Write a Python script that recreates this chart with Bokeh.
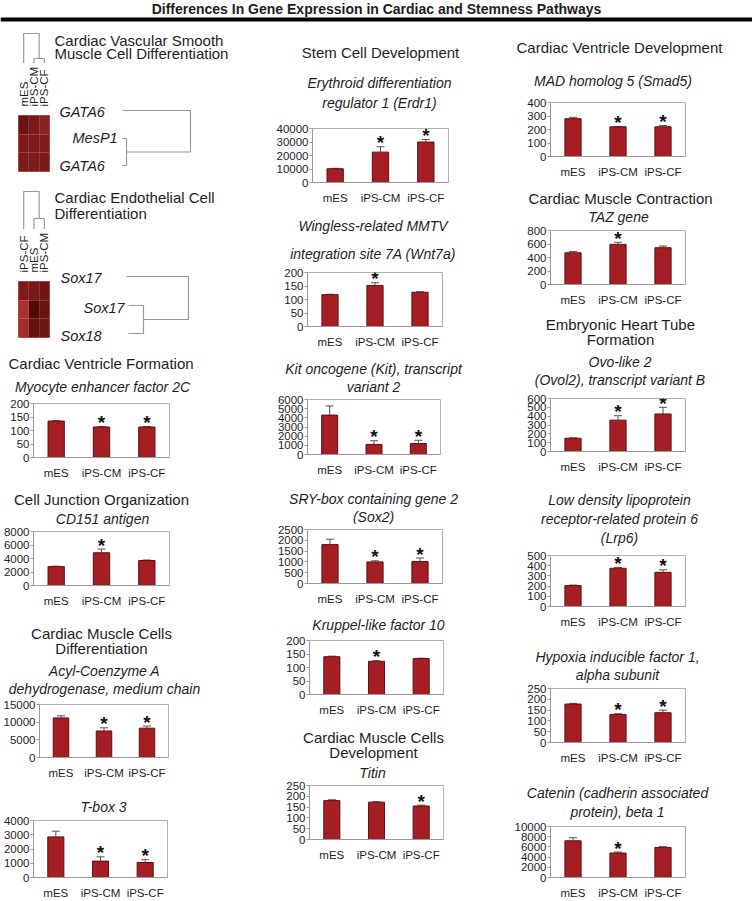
import math
from bokeh.plotting import figure
from bokeh.layouts import column, row
from bokeh.models import (Range1d, FactorRange, FixedTicker, Whisker, TeeHead,
                          ColumnDataSource, Span, LinearColorMapper)
from bokeh.transform import transform
from bokeh.core.properties import value
from bokeh.embed import file_html
from bokeh.resources import INLINE

# ------------------------------------------------------------------ data
TITLE = "Differences In Gene Expression in Cardiac and Stemness Pathways"
CATEGORIES = ["mES", "iPS-CM", "iPS-CF"]

MEF2C = [135, 113, 113]
MEF2C_ERR = [1.5, 2, 2]
MEF2C_SIG = [False, True, True]
MEF2C_TICKS = [0, 50, 100, 150, 200]

CD151 = [2800, 4850, 3700]
CD151_ERR = [60, 550, 80]
CD151_SIG = [False, True, False]
CD151_TICKS = [0, 2000, 4000, 6000, 8000]

ACADM = [11200, 7500, 8300]
ACADM_ERR = [600, 900, 600]
ACADM_SIG = [False, True, True]
ACADM_TICKS = [0, 5000, 10000, 15000]

TBX3 = [2850, 1150, 1050]
TBX3_ERR = [400, 300, 200]
TBX3_SIG = [False, True, True]
TBX3_TICKS = [0, 1000, 2000, 3000, 4000]

ERDR1 = [10200, 22500, 30000]
ERDR1_ERR = [300, 4000, 1800]
ERDR1_SIG = [False, True, True]
ERDR1_TICKS = [0, 10000, 20000, 30000, 40000]

WNT7A = [118, 152, 127]
WNT7A_ERR = [1.5, 10, 1.5]
WNT7A_SIG = [False, True, False]
WNT7A_TICKS = [0, 50, 100, 150, 200]

KIT = [4300, 1100, 1200]
KIT_ERR = [1000, 400, 350]
KIT_SIG = [False, True, True]
KIT_TICKS = [0, 1000, 2000, 3000, 4000, 5000, 6000]

SOX2 = [1800, 1000, 1020]
SOX2_ERR = [250, 50, 160]
SOX2_SIG = [False, True, True]
SOX2_TICKS = [0, 500, 1000, 1500, 2000, 2500]

KLF10 = [140, 123, 133]
KLF10_ERR = [2, 2, 1.5]
KLF10_SIG = [False, True, False]
KLF10_TICKS = [0, 50, 100, 150, 200]

TTN = [180, 173, 155]
TTN_ERR = [4, 2, 4]
TTN_SIG = [False, False, True]
TTN_TICKS = [0, 50, 100, 150, 200, 250]

SMAD5 = [280, 220, 220]
SMAD5_ERR = [10, 3, 10]
SMAD5_SIG = [False, True, True]
SMAD5_TICKS = [0, 100, 200, 300, 400]

TAZ = [470, 595, 545]
TAZ_ERR = [20, 30, 25]
TAZ_SIG = [False, True, False]
TAZ_TICKS = [0, 200, 400, 600, 800]

OVOL2 = [150, 355, 425]
OVOL2_ERR = [5, 50, 75]
OVOL2_SIG = [False, True, True]
OVOL2_TICKS = [0, 100, 200, 300, 400, 500, 600]

LRP6 = [205, 375, 335]
LRP6_ERR = [5, 8, 25]
LRP6_SIG = [False, True, True]
LRP6_TICKS = [0, 100, 200, 300, 400, 500]

HIF1A = [178, 130, 138]
HIF1A_ERR = [3, 3, 12]
HIF1A_SIG = [False, True, True]
HIF1A_TICKS = [0, 50, 100, 150, 200, 250]

CTNNB1 = [7200, 4800, 5900]
CTNNB1_ERR = [600, 200, 150]
CTNNB1_SIG = [False, True, False]
CTNNB1_TICKS = [0, 2000, 4000, 6000, 8000, 10000]

HM1_COLS = ["mES", "iPS-CM", "iPS-CF"]
HM1_ROWS = ["GATA6", "MesP1", "GATA6"]
HM1_VALUES = [[0.70, 0.56, 0.40],
              [0.55, 0.55, 0.52],
              [0.55, 0.53, 0.55]]

HM2_COLS = ["iPS-CF", "mES", "iPS-CM"]
HM2_ROWS = ["Sox17", "Sox17", "Sox18"]
HM2_VALUES = [[0.52, 0.58, 0.66],
              [0.11, 0.91, 0.72],
              [0.20, 0.74, 0.68]]

# ------------------------------------------------------------------ style / layout
W_REF, H_REF = 752, 901
W_OUT, H_OUT = 752, 901
FS = 1.0
FONT = "Liberation Sans"
TXT = "#1e1e1e"
BAR = "#A51E24"
BAR_EDGE = "#5E1014"
ERR = "#555555"
AXIS = "#9a9a9a"
OUTLINE = "#b0b0b0"
DENDRO = "#9a9a9a"


def X(x):
    return int(round(x * W_OUT / W_REF))


def Y(y):
    return int(round(y * H_OUT / H_REF))


def hexcol(a, b, t):
    ca = [int(a[i:i + 2], 16) for i in (1, 3, 5)]
    cb = [int(b[i:i + 2], 16) for i in (1, 3, 5)]
    return "#%02x%02x%02x" % tuple(int(round(ca[k] + (cb[k] - ca[k]) * t)) for k in range(3))


PALETTE = [hexcol("#b83434", "#4a0505", i / 255) for i in range(256)]


def no_align(p):
    try:
        p.frame_align = False
    except Exception:
        pass
    return p


def text_fig(x0, x1, y0, y1):
    p = figure(width=X(x1) - X(x0), height=Y(y1) - Y(y0),
               x_range=Range1d(x0, x1), y_range=Range1d(y1, y0),
               x_axis_type=None, y_axis_type=None, toolbar_location=None,
               output_backend="svg", min_border_left=0, min_border_right=0,
               min_border_top=0, min_border_bottom=0)
    p.outline_line_color = None
    return no_align(p)


def label(p, x, y, s, size=14, italic=False, align="center", bold=False):
    style = "italic" if italic else ("bold" if bold else "normal")
    p.text(x=[x], y=[y], text=[s], text_align=align, text_baseline="middle",
           text_font=value(FONT), text_font_size=value("%.1fpx" % (size * FS)),
           text_font_style=value(style), text_color=TXT)


def bar_fig(x0, x1, y0, y1, fl, fr, ft, fb, vals, errs, sig, ticks):
    p = figure(x_range=FactorRange(factors=CATEGORIES), y_range=Range1d(0, ticks[-1]),
               width=X(x1) - X(x0), height=Y(y1) - Y(y0),
               min_border_left=X(fl) - X(x0), min_border_right=X(x1) - X(fr),
               min_border_top=Y(ft) - Y(y0), min_border_bottom=Y(y1) - Y(fb),
               toolbar_location=None, output_backend="svg")
    no_align(p)
    ups = [v + e for v, e in zip(vals, errs)]
    src = ColumnDataSource(dict(cat=CATEGORIES, val=vals, up=ups))
    p.vbar(x="cat", top="val", width=0.36, source=src, fill_color=BAR,
           line_color=BAR_EDGE, line_width=1)
    p.add_layout(Whisker(base="cat", lower="val", upper="up", source=src,
                         line_color=ERR, line_width=1,
                         upper_head=TeeHead(size=8, line_color=ERR, line_width=1),
                         lower_head=None))
    sx = [c for c, s in zip(CATEGORIES, sig) if s]
    sy = [u for u, s in zip(ups, sig) if s]
    if sx:
        p.text(x=sx, y=sy, text=["*"] * len(sx), text_align="center",
               text_baseline="alphabetic", y_offset=-4, text_font=value(FONT),
               text_font_size=value("19px"), text_font_style=value("bold"),
               text_color="#111111")
    p.xgrid.visible = False
    p.ygrid.visible = False
    p.outline_line_color = OUTLINE
    p.yaxis.ticker = FixedTicker(ticks=ticks)
    p.yaxis.major_label_text_font = FONT
    p.yaxis.major_label_text_font_size = "11.5px"
    p.yaxis.major_label_text_color = TXT
    p.yaxis.major_tick_out = 3
    p.yaxis.major_tick_in = 0
    p.yaxis.minor_tick_line_color = None
    p.yaxis.axis_line_color = AXIS
    p.yaxis.major_tick_line_color = AXIS
    p.yaxis.major_label_standoff = 1
    p.xaxis.major_tick_line_color = None
    p.xaxis.minor_tick_line_color = None
    p.xaxis.axis_line_color = AXIS
    p.xaxis.major_label_standoff = 3
    p.xaxis.major_label_text_font = FONT
    p.xaxis.major_label_text_font_size = "11.5px"
    p.xaxis.major_label_text_color = TXT
    return p


def heatmap_fig(cols, vals, x0, x1, y0, y1, fl, fr, ft, fb):
    n = len(vals)
    p = figure(x_range=FactorRange(factors=cols), y_range=Range1d(n, 0),
               x_axis_location="above", y_axis_type=None,
               width=X(x1) - X(x0), height=Y(y1) - Y(y0),
               min_border_left=X(fl) - X(x0), min_border_right=X(x1) - X(fr),
               min_border_top=Y(ft) - Y(y0), min_border_bottom=Y(y1) - Y(fb),
               toolbar_location=None, output_backend="svg")
    no_align(p)
    xs, ys, vs = [], [], []
    for r, rowv in enumerate(vals):
        for c, v in enumerate(rowv):
            xs.append(cols[c]); ys.append(r + 0.5); vs.append(v)
    mapper = LinearColorMapper(palette=PALETTE, low=0, high=1)
    p.rect(x="col", y="row", width=1, height=1,
           source=ColumnDataSource(dict(col=xs, row=ys, v=vs)),
           fill_color=transform("v", mapper), line_color=None)
    p.grid.visible = False
    p.outline_line_color = "#c05050"
    ax = p.xaxis
    ax.major_label_orientation = math.pi / 2
    ax.axis_line_color = None
    ax.major_tick_line_color = None
    ax.minor_tick_line_color = None
    ax.major_label_standoff = 3
    ax.major_label_text_font = FONT
    ax.major_label_text_font_size = "11.5px"
    ax.major_label_text_color = TXT
    return p


def col_dendro(p, hm_left, hm_right, n, root_y, pair_y, leaf_y):
    cw = (hm_right - hm_left) / n
    c = [hm_left + cw * (i + 0.5) for i in range(n)]
    m = (c[1] + c[2]) / 2
    xs = [[c[0], c[0], m, m], [c[1], c[1], c[2], c[2]]]
    ys = [[leaf_y, root_y, root_y, pair_y], [leaf_y, pair_y, pair_y, leaf_y]]
    p.multi_line(xs=xs, ys=ys, line_color=DENDRO, line_width=1.2)


def row_dendro(p, leaf_ys, x_first, x_pair, pair_x, root_x):
    y0, y1, y2 = leaf_ys
    mid = (y1 + y2) / 2
    xs = [[x_first, root_x, root_x, pair_x],
          [x_pair, pair_x, pair_x, x_pair]]
    ys = [[y0, y0, mid, mid], [y1, y1, y2, y2]]
    p.multi_line(xs=xs, ys=ys, line_color=DENDRO, line_width=1.2)


# ------------------------------------------------------------------ title
title_fig = text_fig(0, 752, 0, 24)
label(title_fig, 376, 8.5, TITLE, size=14, bold=True)
title_fig.add_layout(Span(location=19, dimension="width", line_color="black", line_width=4))

# ------------------------------------------------------------------ left column
LX0, LX1 = 0, 250
left = []

t = text_fig(LX0, LX1, 24, 63)
label(t, 54, 40, "Cardiac Vascular Smooth", 15, align="left")
label(t, 54, 53, "Muscle Cell Differentiation", 15, align="left")
col_dendro(t, 18, 49, 3, 33, 58, 63)
left.append(t)

hm1 = heatmap_fig(HM1_COLS, HM1_VALUES, 0, 52, 63, 175, 18, 49, 106, 171)
tb = text_fig(52, LX1, 63, 175)
for s, x, y in zip(HM1_ROWS, [59, 72, 59], [111, 137, 165]):
    label(tb, x, y, s, 14.5, italic=True, align="left")
row_dendro(tb, [110, 138, 165], 122, 122, 126, 190)
left.append(row(hm1, tb))

t = text_fig(LX0, LX1, 175, 229)
label(t, 54, 197, "Cardiac Endothelial Cell", 15, align="left")
label(t, 54, 213, "Differentiation", 15, align="left")
col_dendro(t, 18, 49, 3, 191, 218, 229)
left.append(t)

hm2 = heatmap_fig(HM2_COLS, HM2_VALUES, 0, 52, 229, 345, 18, 49, 272, 337)
tb = text_fig(52, LX1, 229, 345)
for s, x, y in zip(HM2_ROWS, [60, 83, 60], [277, 307, 335]):
    label(tb, x, y, s, 14.5, italic=True, align="left")
row_dendro(tb, [276, 305, 333], 126, 128, 143, 188)
left.append(row(hm2, tb))

t = text_fig(LX0, LX1, 345, 398)
label(t, 8, 363, "Cardiac Ventricle Formation", 15, align="left")
label(t, 102, 386, "Myocyte enhancer factor 2C", 14, italic=True)
left.append(t)
left.append(bar_fig(LX0, LX1, 398, 481, 33, 169, 403, 463, MEF2C, MEF2C_ERR, MEF2C_SIG, MEF2C_TICKS))

t = text_fig(LX0, LX1, 481, 527)
label(t, 101, 499, "Cell Junction Organization", 15)
label(t, 102, 518, "CD151 antigen", 14, italic=True)
left.append(t)
left.append(bar_fig(LX0, LX1, 527, 609, 33, 169, 531, 591, CD151, CD151_ERR, CD151_SIG, CD151_TICKS))

t = text_fig(LX0, LX1, 609, 699)
label(t, 101, 633, "Cardiac Muscle Cells", 15)
label(t, 101, 648, "Differentiation", 15)
label(t, 104, 670, "Acyl-Coenzyme A", 14, italic=True)
label(t, 104, 688, "dehydrogenase, medium chain", 14, italic=True)
left.append(t)
left.append(bar_fig(LX0, LX1, 699, 781, 33, 168, 704, 763, ACADM, ACADM_ERR, ACADM_SIG, ACADM_TICKS))

t = text_fig(LX0, LX1, 781, 815)
label(t, 103, 806, "T-box 3", 14, italic=True)
left.append(t)
left.append(bar_fig(LX0, LX1, 815, 901, 33, 167, 820, 882, TBX3, TBX3_ERR, TBX3_SIG, TBX3_TICKS))

# ------------------------------------------------------------------ middle column
MX0, MX1 = 250, 500
mid = []
t = text_fig(MX0, MX1, 24, 123)
label(t, 380, 52, "Stem Cell Development", 15)
label(t, 379, 82, "Erythroid differentiation", 14, italic=True)
label(t, 379, 102, "regulator 1 (Erdr1)", 14, italic=True)
mid.append(t)
mid.append(bar_fig(MX0, MX1, 123, 206, 312, 448, 128, 188, ERDR1, ERDR1_ERR, ERDR1_SIG, ERDR1_TICKS))

t = text_fig(MX0, MX1, 206, 267)
label(t, 372.5, 225, "Wingless-related MMTV", 14, italic=True)
label(t, 372.5, 253, "integration site 7A (Wnt7a)", 14, italic=True)
mid.append(t)
mid.append(bar_fig(MX0, MX1, 267, 350, 307, 442, 272, 332, WNT7A, WNT7A_ERR, WNT7A_SIG, WNT7A_TICKS))

t = text_fig(MX0, MX1, 350, 394)
label(t, 373, 368, "Kit oncogene (Kit), transcript", 14, italic=True)
label(t, 373, 386, "variant 2", 14, italic=True)
mid.append(t)
mid.append(bar_fig(MX0, MX1, 394, 478, 307, 440, 399, 460, KIT, KIT_ERR, KIT_SIG, KIT_TICKS))

t = text_fig(MX0, MX1, 478, 524)
label(t, 373, 498, "SRY-box containing gene 2", 14, italic=True)
label(t, 373, 516, "(Sox2)", 14, italic=True)
mid.append(t)
mid.append(bar_fig(MX0, MX1, 524, 607, 307, 442, 529, 589, SOX2, SOX2_ERR, SOX2_SIG, SOX2_TICKS))

t = text_fig(MX0, MX1, 607, 635)
label(t, 378, 624, "Kruppel-like factor 10", 14, italic=True)
mid.append(t)
mid.append(bar_fig(MX0, MX1, 635, 718, 309, 443, 640, 700, KLF10, KLF10_ERR, KLF10_SIG, KLF10_TICKS))

t = text_fig(MX0, MX1, 718, 781)
label(t, 373, 737, "Cardiac Muscle Cells", 15)
label(t, 373, 752, "Development", 15)
label(t, 372, 772.5, "Titin", 14, italic=True)
mid.append(t)
mid.append(bar_fig(MX0, MX1, 781, 863, 309, 443, 785, 845, TTN, TTN_ERR, TTN_SIG, TTN_TICKS))
mid.append(text_fig(MX0, MX1, 863, 901))

# ------------------------------------------------------------------ right column
RX0, RX1 = 500, 752
right = []
t = text_fig(RX0, RX1, 24, 97)
label(t, 619, 47, "Cardiac Ventricle Development", 15)
label(t, 612.5, 80, "MAD homolog 5 (Smad5)", 14, italic=True)
right.append(t)
right.append(bar_fig(RX0, RX1, 97, 180, 550, 685, 102, 163, SMAD5, SMAD5_ERR, SMAD5_SIG, SMAD5_TICKS))

t = text_fig(RX0, RX1, 180, 226)
label(t, 620, 198, "Cardiac Muscle Contraction", 15)
label(t, 618, 216, "TAZ gene", 14, italic=True)
right.append(t)
right.append(bar_fig(RX0, RX1, 226, 308, 550, 685, 230, 291, TAZ, TAZ_ERR, TAZ_SIG, TAZ_TICKS))

t = text_fig(RX0, RX1, 308, 393)
label(t, 620, 324, "Embryonic Heart Tube", 15)
label(t, 620, 339, "Formation", 15)
label(t, 619.5, 361, "Ovo-like 2", 14, italic=True)
label(t, 619.5, 379, "(Ovol2), transcript variant B", 14, italic=True)
right.append(t)
right.append(bar_fig(RX0, RX1, 393, 475, 550, 685, 398, 458, OVOL2, OVOL2_ERR, OVOL2_SIG, OVOL2_TICKS))

t = text_fig(RX0, RX1, 475, 550)
label(t, 619, 499, "Low density lipoprotein", 14, italic=True)
label(t, 619, 518, "receptor-related protein 6", 14, italic=True)
label(t, 619, 537, "(Lrp6)", 14, italic=True)
right.append(t)
right.append(bar_fig(RX0, RX1, 550, 630, 550, 685, 555, 613, LRP6, LRP6_ERR, LRP6_SIG, LRP6_TICKS))

t = text_fig(RX0, RX1, 630, 683)
label(t, 617, 656, "Hypoxia inducible factor 1,", 14, italic=True)
label(t, 617, 674, "alpha subunit", 14, italic=True)
right.append(t)
right.append(bar_fig(RX0, RX1, 683, 766, 550, 685, 688, 748, HIF1A, HIF1A_ERR, HIF1A_SIG, HIF1A_TICKS))

t = text_fig(RX0, RX1, 766, 821)
label(t, 617, 792, "Catenin (cadherin associated", 14, italic=True)
label(t, 617, 811, "protein), beta 1", 14, italic=True)
right.append(t)
right.append(bar_fig(RX0, RX1, 821, 901, 550, 685, 826, 884, CTNNB1, CTNNB1_ERR, CTNNB1_SIG, CTNNB1_TICKS))

layout = column(title_fig, row(column(*left), column(*mid), column(*right)))

with open("out.html", "w") as f:
    f.write(file_html(layout, INLINE, title="Differences In Gene Expression"))
